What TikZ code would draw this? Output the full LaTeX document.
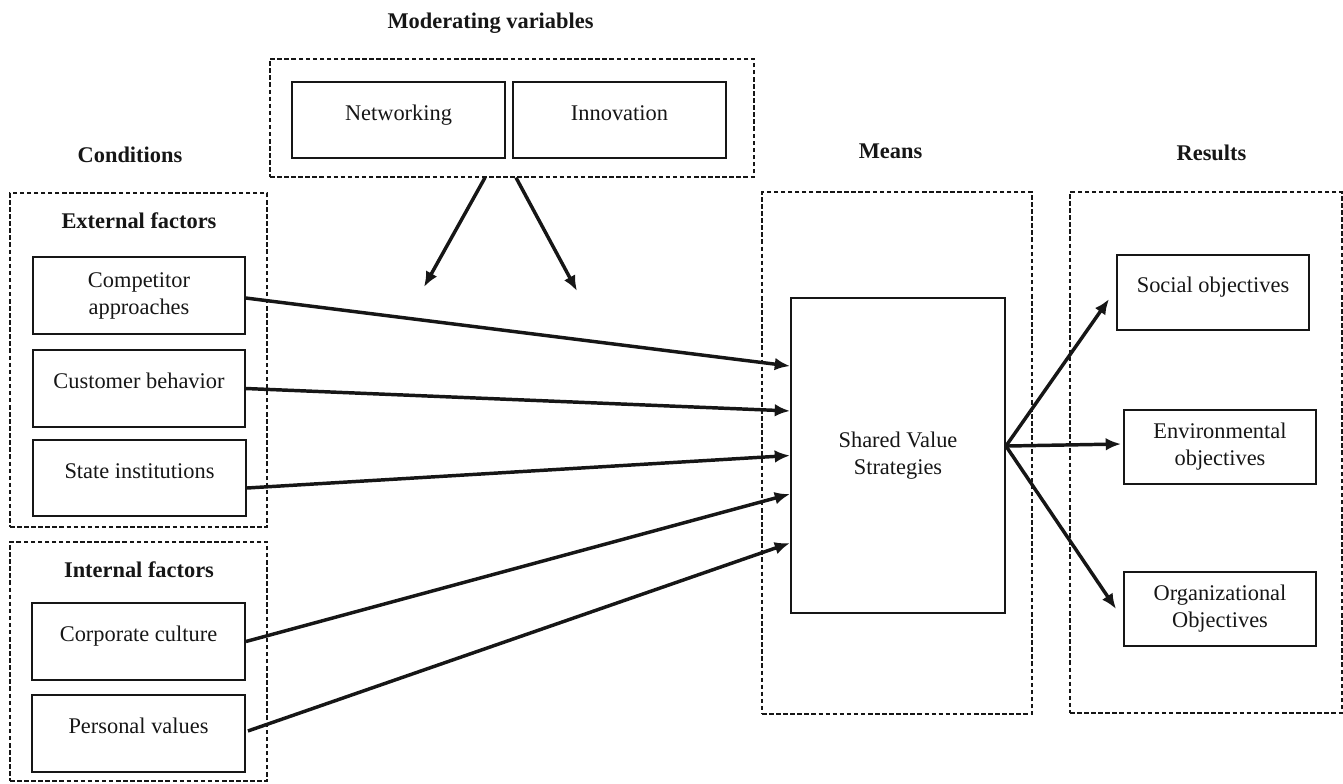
\documentclass[tikz,border=0pt]{standalone}
\usepackage{fontspec}
\setmainfont{Liberation Serif}
\usetikzlibrary{arrows.meta}
\definecolor{ink}{HTML}{161616}
\tikzset{
  solidbox/.style={draw=ink, line width=1.4pt, rectangle, inner sep=0pt, align=center},
  onebox/.style={solidbox, text height=12pt, text depth=12pt},
  dashbox/.style={draw=ink, line width=0.9pt, dash pattern=on 3.4pt off 1.9pt, rectangle, inner sep=0pt},
  head/.style={font=\fontsize{16.8}{20.3}\selectfont\bfseries, inner sep=0pt, anchor=base},
  flow/.style={draw=ink, line width=2.6pt, -{Latex[length=11.5pt,width=9.5pt]}},
}
\begin{document}
\begin{tikzpicture}[x=0.75pt,y=-0.75pt, font=\fontsize{16.8}{20.3}\selectfont, text=ink]
\useasboundingbox (0,0) rectangle (1343,783);

% column headings
\node[head] (hmod)  at (490.5,28)  {Moderating variables};
\node[head] (hcond) at (130,162)   {Conditions};
\node[head] (hmean) at (890.5,158) {Means};
\node[head] (hres)  at (1211.5,160){Results};

% moderating variables
\node[dashbox, minimum width=363pt, minimum height=88.5pt] (mod) at (512,118) {};
\node[onebox, minimum width=159.75pt, minimum height=57pt] (net) at (398.5,120) {Networking};
\node[onebox, minimum width=159.75pt, minimum height=57pt] (inn) at (619.5,120) {Innovation};

% external factors
\node[dashbox, minimum width=192.75pt, minimum height=250.5pt] (ext) at (138.5,360) {};
\node[head] (hext) at (139,228) {External factors};
\node[solidbox, minimum width=159pt, minimum height=57.75pt] (comp)  at (139,295.5) {Competitor\\approaches};
\node[onebox, minimum width=159pt, minimum height=57.75pt]   (cust)  at (139,388.5) {Customer behavior};
\node[onebox, minimum width=159.75pt, minimum height=57pt]   (state) at (139.5,478) {State institutions};

% internal factors
\node[dashbox, minimum width=192.75pt, minimum height=179.25pt] (int) at (138.5,661.5) {};
\node[head] (hint) at (139,577) {Internal factors};
\node[onebox, minimum width=159.75pt, minimum height=57.75pt] (corp) at (138.5,641.5) {Corporate culture};
\node[onebox, minimum width=159.75pt, minimum height=57.75pt] (pers) at (138.5,733.5) {Personal values};

% means
\node[dashbox, minimum width=202.5pt, minimum height=391.5pt] (means) at (897,453) {};
\node[solidbox, minimum width=160.5pt, minimum height=236.25pt] (svs) at (898,455.5) {Shared Value\\Strategies};

% results
\node[dashbox, minimum width=204pt, minimum height=390.75pt] (res) at (1206,452.5) {};
\node[onebox, minimum width=144pt, minimum height=56.25pt]  (social) at (1213,292.5) {Social objectives};
\node[solidbox, minimum width=144pt, minimum height=55.5pt] (env)    at (1220,447)   {Environmental\\objectives};
\node[solidbox, minimum width=144pt, minimum height=55.5pt] (org)    at (1220,609)   {Organizational\\Objectives};

% moderating effects
\coordinate (m1) at (424,287);
\coordinate (m2) at (577,291);
\draw[flow] ([xshift=-20.25pt]mod.south) -- (m1);
\draw[flow] ([xshift=3pt]mod.south) -- (m2);

% conditions feeding the strategies
\draw[flow] ([yshift=-1.9pt]comp.east) -- ([yshift=67.1pt]svs.west);
\draw[flow] (cust.east) -- ([yshift=33.4pt]svs.west);
\draw[flow] ([yshift=-7.5pt]state.east) -- (svs.west);
\draw[flow] (corp.east) -- ([yshift=-28.9pt]svs.west);
\draw[flow] ([xshift=1.5pt,yshift=1.9pt]pers.east) -- ([yshift=-65.6pt]svs.west);

% strategies producing results
\coordinate (hub) at ([yshift=7.1pt]svs.east);
\draw[flow] (hub) -- ([xshift=-5.25pt,yshift=-4.9pt]social.west);
\draw[flow] (hub) -- ([xshift=-1.5pt,yshift=2.25pt]env.west);
\draw[flow] (hub) -- ([xshift=-5.25pt]org.west);
\end{tikzpicture}
\end{document}
